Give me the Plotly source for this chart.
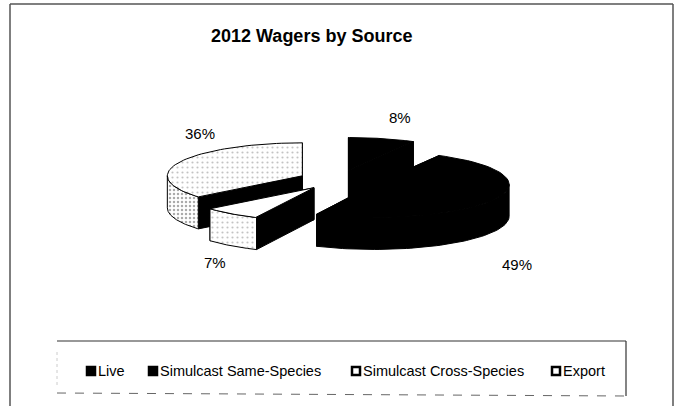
import numpy as np
import plotly.graph_objects as go

# ---- data ----
categories = ["Live", "Simulcast Same-Species", "Simulcast Cross-Species", "Export"]
shares = [8, 49, 7, 36]
title_text = "2012 Wagers by Source"

# ---- 3D pie geometry (pixel space) ----
X0, Y0 = 338.5, 180.0
RX, RY = 135.0, 33.0
DEPTH = 32.0
EXPLODE = 0.296
FONT = "Liberation Sans, Arial, sans-serif"

BLACK = dict(fillcolor="black")
WHITE = dict(fillcolor="white")
DOT_LIGHT = dict(fillcolor="white", fillpattern=dict(shape=".", bgcolor="white", fgcolor="#888", size=5, solidity=0.15))
DOT_DENSE = dict(fillcolor="white", fillpattern=dict(shape=".", bgcolor="white", fgcolor="#555", size=4, solidity=0.3))
slice_styles = {
    "Live": (BLACK, BLACK),
    "Simulcast Same-Species": (BLACK, BLACK),
    "Simulcast Cross-Species": (WHITE, DOT_LIGHT),
    "Export": (DOT_LIGHT, DOT_DENSE),
}
label_pos = {
    "Live": (400, 117),
    "Simulcast Same-Species": (517, 264),
    "Simulcast Cross-Species": (215, 262),
    "Export": (200, 133),
}


def P(theta, c, dz=0.0):
    t = np.radians(theta)
    return c[0] + RX * np.sin(t), c[1] - RY * np.cos(t) + dz


def arc(a0, a1, c, dz=0.0, n=60):
    th = np.linspace(a0, a1, n)
    t = np.radians(th)
    return list(c[0] + RX * np.sin(t)), list(c[1] - RY * np.cos(t) + dz)


fig = go.Figure()

bounds = np.concatenate([[0], np.cumsum(shares)]) / sum(shares) * 360.0
slices = []
for i, name in enumerate(categories):
    a0, a1 = bounds[i], bounds[i + 1]
    b = np.radians((a0 + a1) / 2)
    c = (X0 + EXPLODE * RX * np.sin(b), Y0 - EXPLODE * RY * np.cos(b))
    slices.append((name, a0, a1, c))

for name, a0, a1, c in sorted(slices, key=lambda s: s[3][1]):
    top_style, wall_style = slice_styles[name]
    for a in (a0, a1):
        px, py = P(a, c)
        bx, by = P(a, c, DEPTH)
        fig.add_trace(go.Scatter(
            x=[c[0], px, bx, c[0], c[0]], y=[c[1], py, by, c[1] + DEPTH, c[1]],
            mode="lines", fill="toself", fillcolor="black",
            line=dict(color="black", width=1), hoverinfo="skip", showlegend=False))
    lo, hi = max(a0, 90.0), min(a1, 270.0)
    if lo < hi:
        tx, ty = arc(lo, hi, c)
        bx, by = arc(hi, lo, c, DEPTH)
        fig.add_trace(go.Scatter(
            x=tx + bx + [tx[0]], y=ty + by + [ty[0]],
            mode="lines", fill="toself", line=dict(color="black", width=1),
            hoverinfo="skip", showlegend=False, **wall_style))
    tx, ty = arc(a0, a1, c)
    fig.add_trace(go.Scatter(
        x=[c[0]] + tx + [c[0]], y=[c[1]] + ty + [c[1]],
        mode="lines", fill="toself", line=dict(color="black", width=1),
        hoverinfo="skip", showlegend=False, **top_style))

annotations = []
for name, v in zip(categories, shares):
    lx, ly = label_pos[name]
    annotations.append(dict(x=lx, y=ly, xref="x", yref="y", text=f"{v}%", showarrow=False,
                            font=dict(family=FONT, size=15, color="black")))

annotations.append(dict(x=311, y=36, xref="x", yref="y", text=f"<b>{title_text}</b>", showarrow=False,
                        font=dict(family=FONT, size=18, color="black")))

leg_sq_x = [91, 153, 356, 556]
leg_y = 371
leg_colors = ["black", "black", "white", "white"]
fig.add_trace(go.Scatter(
    x=leg_sq_x, y=[leg_y] * 4, mode="markers",
    marker=dict(symbol="square", size=8, color=leg_colors, line=dict(color="black", width=2.5)),
    hoverinfo="skip", showlegend=False))
for sx, name in zip(leg_sq_x, categories):
    annotations.append(dict(x=sx + 5, y=leg_y, xref="x", yref="y", text=name, showarrow=False,
                            xanchor="left", yanchor="middle",
                            font=dict(family=FONT, size=14.5, color="black")))

shapes = [
    dict(type="line", x0=10, y0=4, x1=673, y1=4, line=dict(color="#555", width=1.5)),
    dict(type="line", x0=10, y0=4, x1=10, y1=406, line=dict(color="#555", width=1.5)),
    dict(type="line", x0=673, y0=4, x1=673, y1=406, line=dict(color="#555", width=1.5)),
    dict(type="line", x0=57, y0=341, x1=626, y1=341, line=dict(color="#333", width=1.2)),
    dict(type="line", x0=626, y0=341, x1=626, y1=396, line=dict(color="#333", width=1.2)),
    dict(type="line", x0=57, y0=393, x1=626, y1=396, line=dict(color="#666", width=1, dash="dash")),
    dict(type="line", x0=57, y0=352, x1=57, y1=385, line=dict(color="#ccc", width=1, dash="dot")),
]

fig.update_layout(
    width=679, height=406, autosize=False,
    margin=dict(l=0, r=0, t=0, b=0),
    paper_bgcolor="white", plot_bgcolor="white",
    xaxis=dict(range=[0, 679], visible=False, fixedrange=True),
    yaxis=dict(range=[406, 0], visible=False, fixedrange=True),
    annotations=annotations, shapes=shapes, showlegend=False,
)

fig.write_html("out.html")
